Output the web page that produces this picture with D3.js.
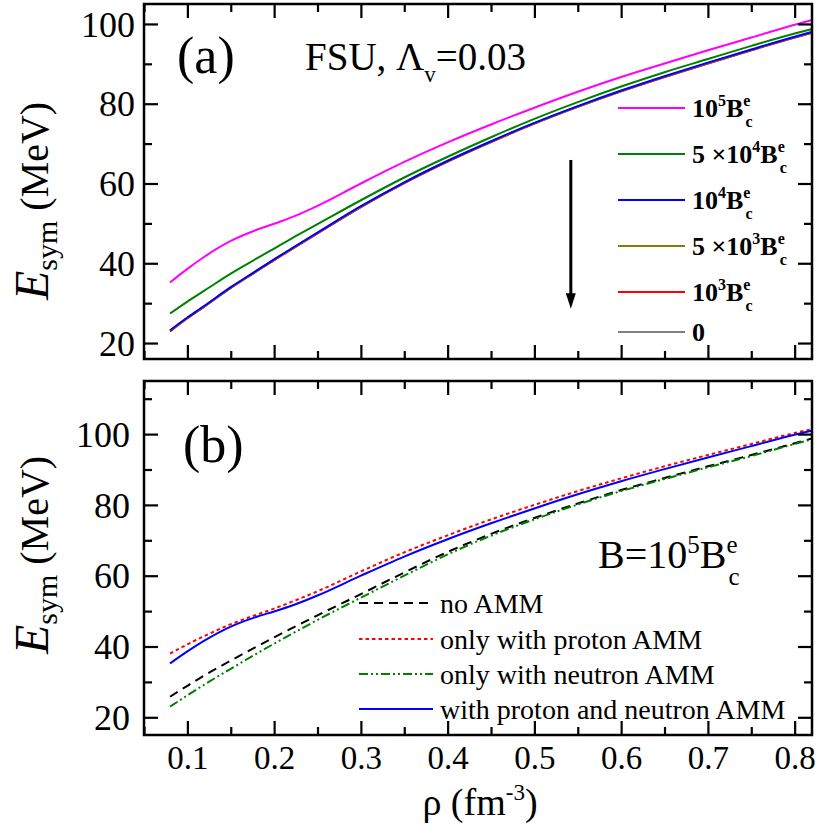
<!DOCTYPE html>
<html><head><meta charset="utf-8">
<script src="https://cdn.jsdelivr.net/npm/d3@7"></script>
<style>
body{margin:0;background:#fff;}
text{font-family:"Liberation Serif","Times New Roman",serif;fill:#000;}
</style></head>
<body><svg id="c" width="821" height="835"></svg>
<script>
// ---------- data ----------
const rho = [0.08,0.10,0.12,0.15,0.18,0.20,0.22,0.25,0.30,0.35,0.40,0.45,0.50,0.55,0.60,0.65,0.70,0.75,0.80,0.82];
// panel (a): FSU, Lambda_v = 0.03, different B
const a_B1e5  = [35.2,38.6,41.7,45.6,48.4,49.9,51.5,54.4,60.0,65.4,70.3,74.8,79.0,83.0,86.7,90.1,93.4,96.6,99.8,101.0];
const a_B5e4  = [27.4,30.4,33.2,37.4,41.2,43.7,46.2,49.8,55.8,61.5,66.7,71.6,76.2,80.4,84.3,87.9,91.2,94.5,97.6,98.7];
const a_B1e4  = [23.2,26.4,29.4,34.0,38.2,41.0,43.7,47.7,54.3,60.3,65.7,70.6,75.2,79.4,83.3,86.9,90.3,93.6,96.8,98.0];
const a_B5e3  = [23.1,26.3,29.3,33.9,38.1,40.9,43.6,47.6,54.2,60.2,65.6,70.5,75.1,79.3,83.2,86.8,90.2,93.5,96.7,97.9];
const a_B1e3  = [22.9,26.2,29.2,33.8,38.0,40.8,43.5,47.5,54.1,60.1,65.5,70.4,75.0,79.2,83.1,86.7,90.1,93.4,96.6,97.8];
const a_B0    = [22.9,26.2,29.2,33.8,38.0,40.8,43.5,47.5,54.1,60.1,65.5,70.4,75.0,79.2,83.1,86.7,90.1,93.4,96.6,97.8];
// panel (b): B = 10^5 B_c^e
const b_noAMM   = [25.8,28.9,31.9,36.0,40.0,42.6,45.1,48.8,54.8,60.9,66.7,71.8,76.3,80.4,84.2,87.6,90.9,94.1,97.4,98.8];
const b_proton  = [38.0,40.6,43.0,46.3,49.0,50.7,52.6,55.6,61.2,66.6,71.4,75.9,80.0,83.9,87.5,90.9,94.1,97.2,100.3,101.4];
const b_neutron = [23.0,26.2,29.3,33.7,38.0,40.8,43.5,47.5,53.8,60.0,66.0,71.3,75.9,80.1,83.9,87.3,90.6,93.8,97.2,98.5];
const b_both    = [35.2,38.6,41.7,45.6,48.4,49.9,51.5,54.4,60.0,65.4,70.3,74.8,79.0,83.0,86.7,90.1,93.4,96.6,99.8,101.0];

const xTicks = [0.1,0.2,0.3,0.4,0.5,0.6,0.7,0.8];
const xMinor = [0.05,0.15,0.25,0.35,0.45,0.55,0.65,0.75];
const yTicks = [20,40,60,80,100];
const yMinorA = [30,50,70,90];
const yMinorB = [30,50,70,90,110];

const legendA = [
  {pre:"10", exp:"5", color:"#ff00ff", data:a_B1e5},
  {pre:"5 \u00d710", exp:"4", color:"#008000", data:a_B5e4},
  {pre:"10", exp:"4", color:"#0000ff", data:a_B1e4},
  {pre:"5 \u00d710", exp:"3", color:"#808000", data:a_B5e3},
  {pre:"10", exp:"3", color:"#ff0000", data:a_B1e3},
  {pre:"0", exp:null, color:"#808080", data:a_B0}
];
const legendB = [
  {label:"no AMM", color:"#000000", dash:"9,6", data:b_noAMM},
  {label:"only with proton AMM", color:"#ff0000", dash:"3.5,3", data:b_proton},
  {label:"only with neutron AMM", color:"#008000", dash:"9,3,2,3,2,3", data:b_neutron},
  {label:"with proton and neutron AMM", color:"#0000ff", dash:null, data:b_both}
];

// ---------- layout ----------
const svg = d3.select("#c");
const L = 144, R = 812;
const x = d3.scaleLinear().domain([0.05,0.82]).range([L,R]);
const yA = d3.scaleLinear().domain([16,105]).range([359,4]);
const yB = d3.scaleLinear().domain([15,115]).range([735,381]);

function frame(y, top, bottom, minorY, labelPad, showX){
  const g = svg.append("g");
  const gl = g.append("g").attr("transform",`translate(${L},0)`)
    .call(d3.axisLeft(y).tickValues(yTicks).tickSizeInner(-14).tickSizeOuter(0).tickPadding(labelPad).tickFormat(d3.format("d")));
  gl.append("g").call(d3.axisLeft(y).tickValues(minorY).tickSizeInner(-8).tickSizeOuter(0).tickFormat(""));
  const gr = g.append("g").attr("transform",`translate(${R},0)`)
    .call(d3.axisRight(y).tickValues(yTicks).tickSizeInner(-14).tickSizeOuter(0).tickFormat(""));
  gr.append("g").call(d3.axisRight(y).tickValues(minorY).tickSizeInner(-8).tickSizeOuter(0).tickFormat(""));
  const gb = g.append("g").attr("transform",`translate(0,${bottom})`)
    .call(d3.axisBottom(x).tickValues(xTicks).tickSizeInner(-14).tickSizeOuter(0).tickPadding(10)
      .tickFormat(showX ? d3.format(".1f") : ""));
  gb.append("g").call(d3.axisBottom(x).tickValues(xMinor).tickSizeInner(-8).tickSizeOuter(0).tickFormat(""));
  const gt = g.append("g").attr("transform",`translate(0,${top})`)
    .call(d3.axisTop(x).tickValues(xTicks).tickSizeInner(-14).tickSizeOuter(0).tickFormat(""));
  gt.append("g").call(d3.axisTop(x).tickValues(xMinor).tickSizeInner(-8).tickSizeOuter(0).tickFormat(""));
  g.selectAll(".domain").remove();
  g.selectAll(".tick line").attr("stroke","#000").attr("stroke-width",2.2);
  gl.selectAll(".tick text").attr("font-size",36).attr("font-family","Liberation Serif").attr("fill","#000").attr("dy","0.34em");
  gb.selectAll(".tick text").attr("font-size",33).attr("font-family","Liberation Serif").attr("fill","#000").attr("dy","0.72em");
  g.append("rect").attr("x",L).attr("y",top).attr("width",R-L).attr("height",bottom-top)
    .attr("fill","none").attr("stroke","#000").attr("stroke-width",2.5);
}

const defs = svg.append("defs");
defs.append("clipPath").attr("id","clipA").append("rect").attr("x",L).attr("y",4).attr("width",R-L).attr("height",355);
defs.append("clipPath").attr("id","clipB").append("rect").attr("x",L).attr("y",381).attr("width",R-L).attr("height",354);

// ---------- panel (a) ----------
const lineA = d3.line().x((d,i)=>x(rho[i])).y(d=>yA(d)).curve(d3.curveMonotoneX);
const gA = svg.append("g").attr("clip-path","url(#clipA)");
[5,4,3,2,1,0].forEach(k=>{
  gA.append("path").datum(legendA[k].data).attr("d",lineA)
    .attr("fill","none").attr("stroke",legendA[k].color).attr("stroke-width",2);
});
frame(yA,4,359,yMinorA,9,false);

// arrow
svg.append("line").attr("x1",x(0.542)).attr("x2",x(0.542)).attr("y1",yA(65.9)).attr("y2",yA(30.5))
  .attr("stroke","#000").attr("stroke-width",3);
svg.append("path").attr("d",`M${x(0.542)-5},${yA(32.5)} L${x(0.542)+5},${yA(32.5)} L${x(0.542)},${yA(28.6)} Z`).attr("fill","#000");

svg.append("text").attr("x",177).attr("y",73).attr("font-size",52).text("(a)");
const t1 = svg.append("text").attr("x",305).attr("y",70).attr("font-size",39);
t1.append("tspan").text("FSU, \u039b");
t1.append("tspan").attr("font-size",23).attr("dy",12).text("v");
t1.append("tspan").attr("dy",-12).text("=0.03");

const legRowsA = [108,154,200,246,292,332];
legendA.forEach((s,i)=>{
  const yy = legRowsA[i];
  svg.append("line").attr("x1",618).attr("x2",685).attr("y1",yy).attr("y2",yy)
    .attr("stroke",s.color).attr("stroke-width",2);
  const t = svg.append("text").attr("x",692).attr("y",yy+9).attr("font-size",26).attr("font-weight","bold");
  t.append("tspan").text(s.pre);
  if(s.exp){
    t.append("tspan").attr("font-size",16).attr("dy",-11).text(s.exp);
    t.append("tspan").attr("dy",11).text("B");
    t.append("tspan").attr("font-size",16).attr("dy",-11).text("e");
    t.append("tspan").attr("font-size",16).attr("dx",-5).attr("dy",21).text("c");
  }
});

// ---------- panel (b) ----------
const lineB = d3.line().x((d,i)=>x(rho[i])).y(d=>yB(d)).curve(d3.curveMonotoneX);
const gB = svg.append("g").attr("clip-path","url(#clipB)");
legendB.forEach(s=>{
  gB.append("path").datum(s.data).attr("d",lineB)
    .attr("fill","none").attr("stroke",s.color).attr("stroke-width",2)
    .attr("stroke-dasharray",s.dash);
});
frame(yB,381,735,yMinorB,14,true);

svg.append("text").attr("x",183).attr("y",462).attr("font-size",52).text("(b)");
const t2 = svg.append("text").attr("x",598).attr("y",568).attr("font-size",40);
t2.append("tspan").text("B=10");
t2.append("tspan").attr("font-size",25).attr("dy",-15).text("5");
t2.append("tspan").attr("dy",15).text("B");
t2.append("tspan").attr("font-size",25).attr("dy",-15).text("e");
t2.append("tspan").attr("font-size",25).attr("dx",-9).attr("dy",32).text("c");

const legRowsB = [603,639,674,709];
legendB.forEach((s,i)=>{
  const yy = legRowsB[i];
  svg.append("line").attr("x1",359).attr("x2",433).attr("y1",yy).attr("y2",yy)
    .attr("stroke",s.color).attr("stroke-width",2).attr("stroke-dasharray",s.dash);
  svg.append("text").attr("x",440).attr("y",yy+10).attr("font-size",28).text(s.label);
});

// ---------- axis titles ----------
function yTitle(cy){
  const t = svg.append("text").attr("transform",`translate(48,${cy}) rotate(-90)`)
    .attr("text-anchor","middle").attr("font-size",40);
  t.append("tspan").attr("font-style","italic").attr("font-size",48).text("E");
  t.append("tspan").attr("font-size",30).attr("dy",9).text("sym");
  t.append("tspan").attr("dy",-9).text(" (MeV)");
}
yTitle(201);
yTitle(555);

const xt = svg.append("text").attr("x",480).attr("y",815).attr("text-anchor","middle").attr("font-size",38);
xt.append("tspan").text("\u03c1 (fm");
xt.append("tspan").attr("font-size",23).attr("dy",-15).text("-3");
xt.append("tspan").attr("dy",15).text(")");
</script></body></html>
